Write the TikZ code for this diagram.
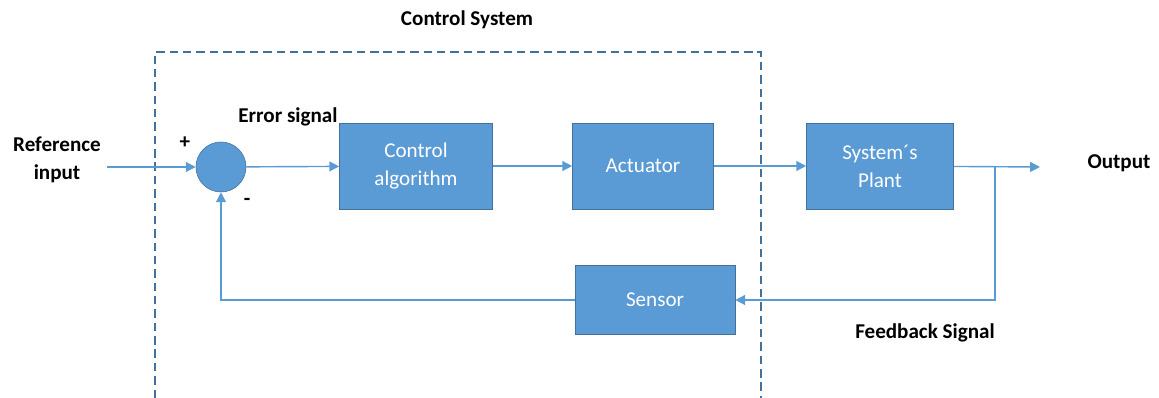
\documentclass[tikz,border=0pt]{standalone}
\usepackage{fontspec}
\setmainfont{Carlito}
\usetikzlibrary{arrows.meta,positioning}
\definecolor{boxblue}{HTML}{5B9BD5}
\definecolor{edgeblue}{HTML}{41719C}

\begin{document}
\begin{tikzpicture}[x=0.025cm,y=-0.025cm,
  b/.style={draw=edgeblue,fill=boxblue,text=white,align=center,inner sep=2pt,
    minimum height=2.15cm},
  lbl/.style={font=\fontsize{15}{20}\selectfont\bfseries,align=center},
  ln/.style={draw=boxblue,line width=1pt},
  >={Triangle[length=7pt,width=7pt]},
  font=\fontsize{15}{20}\selectfont]
\useasboundingbox (0,0) rectangle (1159,398);
% forward path
\node[circle,draw=edgeblue,fill=boxblue,minimum size=1.25cm,inner sep=0pt] (sum) at (221,167) {};
\node[b,minimum width=3.825cm] (ctrl) at (416,166) {Control\\algorithm};
\node[b,minimum width=3.525cm] (act) at (643,166) {Actuator};
\node[b,minimum width=3.675cm] (plant) at (880,166) {System´s\\Plant};
\node[b,minimum width=4cm,minimum height=1.725cm] (sens) at (655,300) {Sensor};
% labels
\node[lbl] (title) at (467,20) {Control System};
\node[lbl] (ref) at (57,160) {Reference\\input};
\node[lbl] (err) at (288,117) {Error signal};
\node[lbl] (out) at (1119,163) {Output};
\node[lbl] (fb) at (925,333) {Feedback Signal};
\node[lbl] (plus) at (185,143) {+};
\node[lbl] (minus) at (247,202) {-};
\coordinate (in) at (107,167);
\coordinate (end) at (1040,167);
\coordinate (tap) at (995,167);
% dashed boundary, open at the bottom
\draw[edgeblue,dash pattern=on 6pt off 3.5pt,line width=1pt] (155,398) -- (155,52) -- (761,52) -- (761,398);
% connectors
\draw[ln,->] (in) -- (sum);
\draw[ln,->] (sum) -- (ctrl);
\draw[ln,->] (ctrl) -- (act);
\draw[ln,->] (act) -- (plant);
\draw[ln,->] (plant) -- (end);
\draw[ln,->] (tap) |- (sens);
\draw[ln,->] (sens) -| (sum);
\end{tikzpicture}
\end{document}
